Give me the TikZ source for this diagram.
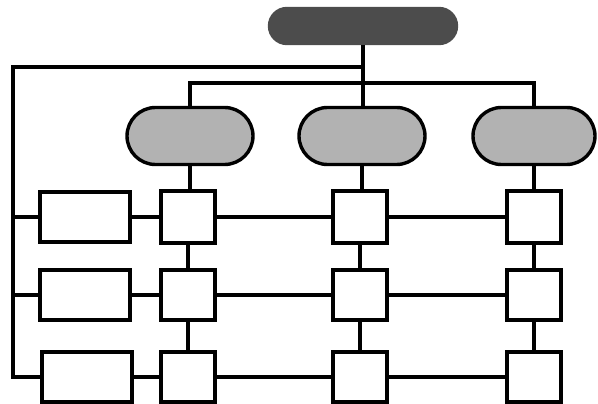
\documentclass[tikz,border=0pt]{standalone}
\begin{document}
\begin{tikzpicture}[x=1pt,y=-1pt,line width=3.4pt,
  topbox/.style={rectangle,fill=black!70,draw=black!70,minimum width=187pt,minimum height=35pt,rounded corners=17.5pt,inner sep=0pt},
  midbox/.style={rectangle,fill=black!30,draw=black,minimum width=126pt,minimum height=57pt,rounded corners=28.5pt,inner sep=0pt},
  recbox/.style={rectangle,draw=black,fill=white,minimum width=90pt,minimum height=50pt,inner sep=0pt},
  sqbox/.style={rectangle,draw=black,fill=white,minimum width=54pt,minimum height=52pt,inner sep=0pt}]
\useasboundingbox (0,0) rectangle (598,404);
\node[topbox] (top) at (363,26) {};
\node[midbox] (m1) at (190,136) {};
\node[midbox] (m2) at (362,136) {};
\node[midbox,minimum width=122pt] (m3) at (534,136) {};
\node[recbox] (r1) at (85,217) {};
\node[recbox] (r2) at (85,295) {};
\node[recbox] (r3) at (87,377) {};
\node[sqbox] (s11) at (188,217) {};
\node[sqbox] (s12) at (360,217) {};
\node[sqbox] (s13) at (534,217) {};
\node[sqbox,minimum height=50pt] (s21) at (188,295) {};
\node[sqbox,minimum height=50pt] (s22) at (360,295) {};
\node[sqbox,minimum height=50pt] (s23) at (534,295) {};
\node[sqbox,minimum height=50pt] (s31) at (188,377) {};
\node[sqbox,minimum height=50pt] (s32) at (360,377) {};
\node[sqbox,minimum height=50pt] (s33) at (534,377) {};
\coordinate (J) at (362,67);
\coordinate (L) at (13,67);
\coordinate (bus) at (362,83);
\draw (top.south) -- (top.south |- m2.north);
\draw (J) -- (L) |- (r3.west);
\draw (L |- r1.west) -- (r1.west);
\draw (L |- r2.west) -- (r2.west);
\draw (m1.north) |- (bus) -| (m3.north);
\draw (m1.south) -- (m1.south |- s11.north);
\draw (m2.south) -- (m2.south |- s12.north);
\draw (m3.south) -- (m3.south |- s13.north);
\draw (r1) -- (s11) -- (s12) -- (s13);
\draw (r2) -- (s21) -- (s22) -- (s23);
\draw (r3) -- (s31) -- (s32) -- (s33);
\draw (s11) -- (s21) -- (s31);
\draw (s12) -- (s22) -- (s32);
\draw (s13) -- (s23) -- (s33);
\end{tikzpicture}
\end{document}
